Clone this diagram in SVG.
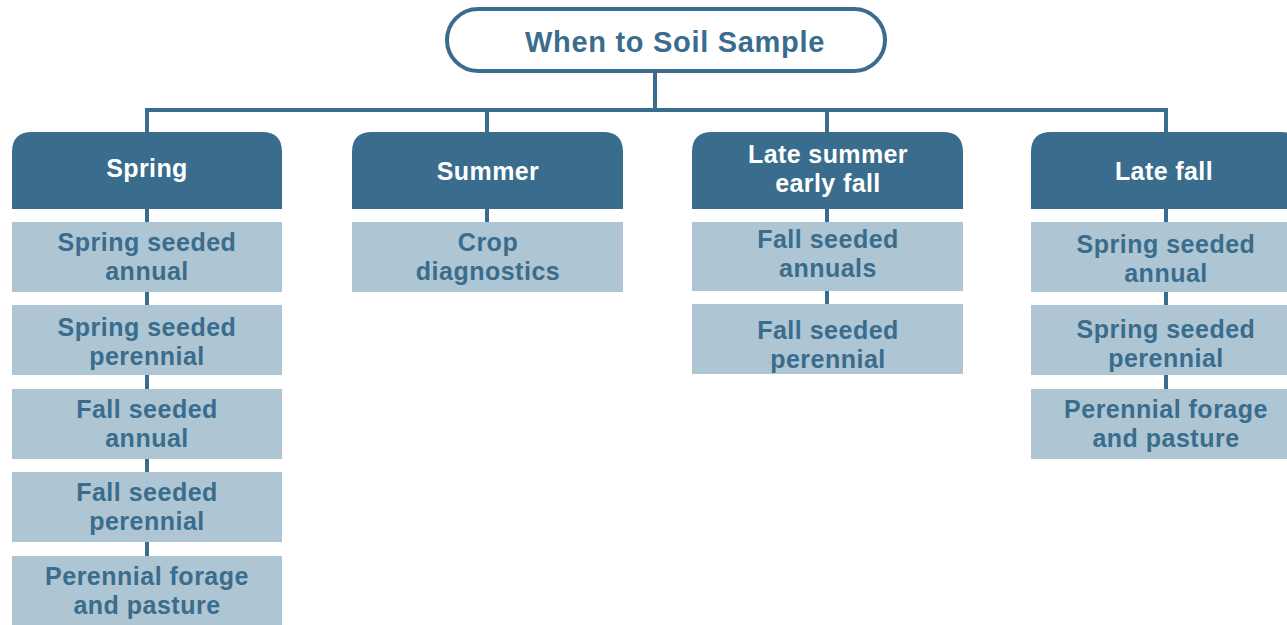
<svg xmlns="http://www.w3.org/2000/svg" width="1287" height="625" viewBox="0 0 1287 625">
<style>
.ln{stroke:#3a6d8d;stroke-width:4;fill:none}
.hd{fill:#3a6d8d}
.bx{fill:#aec5d3}
.ht{font-family:"Liberation Sans",Arial,sans-serif;font-weight:bold;font-size:25px;fill:#ffffff;text-anchor:middle;letter-spacing:0.4px}
.bt{font-family:"Liberation Sans",Arial,sans-serif;font-weight:bold;font-size:25px;fill:#3a6d8d;text-anchor:middle;letter-spacing:0.5px}
.tt{font-family:"Liberation Sans",Arial,sans-serif;font-weight:bold;font-size:29px;fill:#3a6d8d;text-anchor:middle;letter-spacing:0.7px}
</style>
<rect width="1287" height="625" fill="#ffffff"/>
<g id="connectors">
<line class="ln" x1="655" y1="71" x2="655" y2="110"/>
<line class="ln" x1="145" y1="110" x2="1168" y2="110"/>
<line class="ln" x1="147" y1="108" x2="147" y2="560"/>
<line class="ln" x1="487" y1="108" x2="487" y2="225"/>
<line class="ln" x1="827" y1="108" x2="827" y2="308"/>
<line class="ln" x1="1166" y1="108" x2="1166" y2="392"/>
</g>
<g id="root">
<rect x="447" y="9" width="438" height="62" rx="31" fill="#ffffff" stroke="#3a6d8d" stroke-width="4"/>
<text class="tt" x="675" y="52">When to Soil Sample</text>
</g>
<g id="spring">
<path class="hd" d="M12 209 V152 Q12 132 32 132 H262 Q282 132 282 152 V209 Z"/>
<text class="ht" x="147" y="177">Spring</text>
</g>
<g id="spring-1"><rect class="bx" x="12" y="222" width="270" height="70"/><text class="bt" x="147" y="251">Spring seeded</text><text class="bt" x="147" y="280">annual</text></g>
<g id="spring-2"><rect class="bx" x="12" y="305" width="270" height="70"/><text class="bt" x="147" y="336">Spring seeded</text><text class="bt" x="147" y="365">perennial</text></g>
<g id="spring-3"><rect class="bx" x="12" y="389" width="270" height="70"/><text class="bt" x="147" y="418">Fall seeded</text><text class="bt" x="147" y="447">annual</text></g>
<g id="spring-4"><rect class="bx" x="12" y="472" width="270" height="70"/><text class="bt" x="147" y="501">Fall seeded</text><text class="bt" x="147" y="530">perennial</text></g>
<g id="spring-5"><rect class="bx" x="12" y="556" width="270" height="69"/><text class="bt" x="147" y="585">Perennial forage</text><text class="bt" x="147" y="614">and pasture</text></g>
<g id="summer">
<path class="hd" d="M352 209 V152 Q352 132 372 132 H603 Q623 132 623 152 V209 Z"/>
<text class="ht" x="488" y="180">Summer</text>
</g>
<g id="summer-1"><rect class="bx" x="352" y="222" width="271" height="70"/><text class="bt" x="488" y="251">Crop</text><text class="bt" x="488" y="280">diagnostics</text></g>
<g id="latesummer">
<path class="hd" d="M692 209 V152 Q692 132 712 132 H943 Q963 132 963 152 V209 Z"/>
<text class="ht" x="828" y="163">Late summer</text>
<text class="ht" x="828" y="192">early fall</text>
</g>
<g id="latesummer-1"><rect class="bx" x="692" y="222" width="271" height="69"/><text class="bt" x="828" y="248">Fall seeded</text><text class="bt" x="828" y="277">annuals</text></g>
<g id="latesummer-2"><rect class="bx" x="692" y="304" width="271" height="70"/><text class="bt" x="828" y="339">Fall seeded</text><text class="bt" x="828" y="368">perennial</text></g>
<g id="latefall">
<path class="hd" d="M1031 209 V152 Q1031 132 1051 132 H1281 Q1301 132 1301 152 V209 Z"/>
<text class="ht" x="1164" y="180">Late fall</text>
</g>
<g id="latefall-1"><rect class="bx" x="1031" y="222" width="270" height="70"/><text class="bt" x="1166" y="253">Spring seeded</text><text class="bt" x="1166" y="282">annual</text></g>
<g id="latefall-2"><rect class="bx" x="1031" y="305" width="270" height="70"/><text class="bt" x="1166" y="338">Spring seeded</text><text class="bt" x="1166" y="367">perennial</text></g>
<g id="latefall-3"><rect class="bx" x="1031" y="389" width="270" height="70"/><text class="bt" x="1166" y="418">Perennial forage</text><text class="bt" x="1166" y="447">and pasture</text></g>
</svg>
